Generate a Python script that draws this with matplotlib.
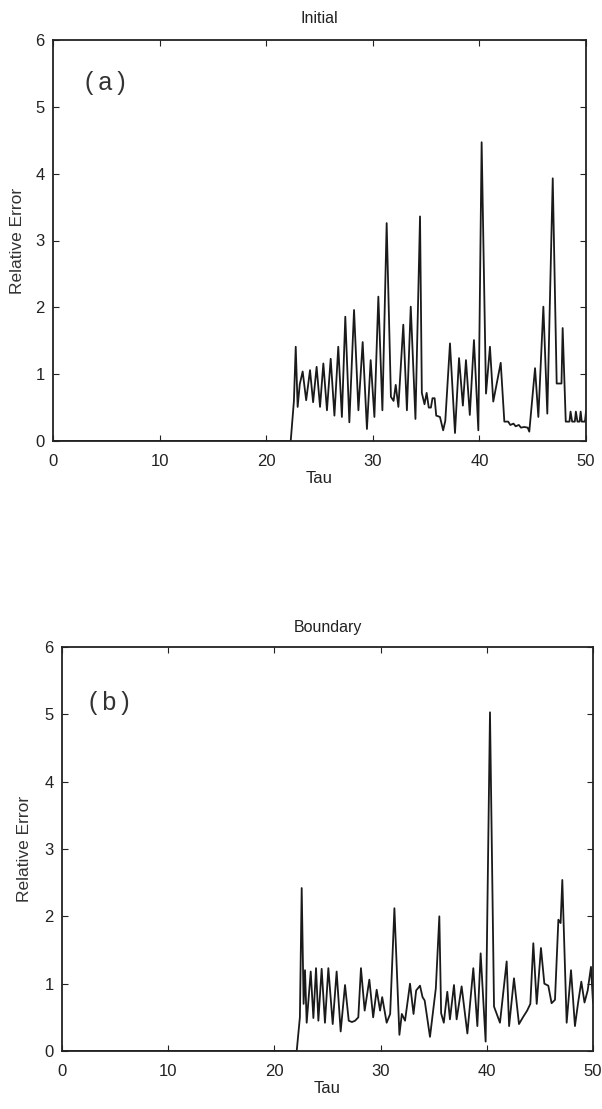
import matplotlib
matplotlib.use("Agg")
import matplotlib.pyplot as plt

plt.rcParams['font.family'] = ['Liberation Sans', 'DejaVu Sans']

# ---- Panel (a): Initial ----
tau_a = [0.0, 22.3, 22.6, 22.77, 22.95, 23.15, 23.42, 23.75, 24.11, 24.4, 24.73,
         25.05, 25.36, 25.7, 26.05, 26.4, 26.76, 27.1, 27.42, 27.8, 28.24,
         28.65, 29.05, 29.45, 29.80, 30.15, 30.52, 30.9, 31.30, 31.7, 31.95,
         32.15, 32.4, 32.86, 33.2, 33.56, 34.0, 34.43, 34.6, 34.85, 35.05,
         35.25, 35.45, 35.6, 35.8, 35.95, 36.3, 36.6, 36.8, 37.24, 37.71,
         38.09, 38.45, 38.74, 39.1, 39.49, 39.9, 40.21, 40.62, 40.99, 41.3,
         42.0, 42.34, 42.7, 42.9, 43.2, 43.4, 43.7, 43.9, 44.2, 44.53,
         44.68, 45.22, 45.53, 46.0, 46.37, 46.88, 47.25, 47.7, 47.81, 48.1,
         48.45, 48.55, 48.7, 48.95, 49.05, 49.2, 49.4, 49.5, 49.6, 49.9, 50.0]
err_a = [0.0, 0.0, 0.6, 1.41, 0.51, 0.85, 1.04, 0.61, 1.06, 0.58, 1.11,
         0.51, 1.16, 0.46, 1.23, 0.38, 1.41, 0.36, 1.86, 0.28, 1.96,
         0.46, 1.48, 0.18, 1.21, 0.36, 2.16, 0.46, 3.26, 0.66, 0.60,
         0.84, 0.51, 1.74, 0.46, 2.01, 0.33, 3.36, 0.72, 0.55, 0.72,
         0.50, 0.50, 0.64, 0.64, 0.38, 0.36, 0.16, 0.30, 1.46, 0.12,
         1.24, 0.53, 1.21, 0.39, 1.51, 0.16, 4.47, 0.71, 1.41, 0.59,
         1.17, 0.29, 0.29, 0.24, 0.26, 0.22, 0.24, 0.20, 0.21, 0.20,
         0.14, 1.09, 0.36, 2.01, 0.41, 3.93, 0.86, 0.86, 1.69, 0.29,
         0.29, 0.44, 0.29, 0.29, 0.44, 0.29, 0.29, 0.44, 0.29, 0.29, 0.44]

# ---- Panel (b): Boundary ----
tau_b = [0.0, 22.1, 22.4, 22.57, 22.75, 22.88, 23.04, 23.42, 23.67, 23.92, 24.14,
         24.45, 24.76, 25.08, 25.49, 25.86, 26.24, 26.65, 27.0, 27.3, 27.6,
         27.9, 28.15, 28.5, 28.94, 29.3, 29.63, 29.95, 30.15, 30.57, 30.9,
         31.3, 31.77, 32.0, 32.3, 32.77, 33.1, 33.35, 33.71, 33.95, 34.15,
         34.65, 35.2, 35.53, 35.7, 35.95, 36.28, 36.53, 36.91, 37.16, 37.63,
         38.17, 38.73, 39.11, 39.42, 39.89, 40.3, 40.68, 41.24, 41.87, 42.1,
         42.56, 43.03, 43.4, 43.8, 44.1, 44.38, 44.7, 45.1, 45.42, 45.79,
         46.1, 46.42, 46.74, 46.95, 47.11, 47.52, 47.93, 48.3, 48.6, 48.9,
         49.2, 49.5, 49.81, 50.0]
err_b = [0.0, 0.0, 0.5, 2.42, 0.70, 1.20, 0.42, 1.18, 0.49, 1.23, 0.45,
         1.22, 0.42, 1.23, 0.40, 1.18, 0.29, 0.98, 0.45, 0.43, 0.45,
         0.50, 1.23, 0.60, 1.06, 0.50, 0.91, 0.60, 0.80, 0.42, 0.55,
         2.12, 0.24, 0.55, 0.45, 1.00, 0.55, 0.90, 0.97, 0.80, 0.75,
         0.21, 0.93, 2.00, 0.56, 0.42, 0.88, 0.47, 0.98, 0.47, 0.96,
         0.26, 1.23, 0.37, 1.45, 0.14, 5.03, 0.66, 0.42, 1.33, 0.37,
         1.08, 0.40, 0.50, 0.60, 0.70, 1.60, 0.70, 1.53, 1.00, 0.97,
         0.71, 0.76, 1.95, 1.90, 2.54, 0.42, 1.20, 0.37, 0.72, 1.03,
         0.72, 0.90, 1.25, 0.72]

x_ticks = [0, 10, 20, 30, 40, 50]
y_ticks = [0, 1, 2, 3, 4, 5, 6]

fig = plt.figure(figsize=(6.02, 11.09), dpi=100)
ax_a = fig.add_axes([53/602, 1 - 441/1109, (586 - 53)/602, (441 - 40)/1109])
ax_b = fig.add_axes([62/602, 1 - 1051/1109, (593 - 62)/602, (1051 - 647)/1109])

line_color = '#1a1a1a'

def style(ax, title, tag, ylab_x, tpad, tag_xy):
    ax.set_xlim(0, 50)
    ax.set_ylim(0, 6)
    ax.set_xticks(x_ticks)
    ax.set_yticks(y_ticks)
    ax.tick_params(direction='in', top=True, right=True, length=4,
                   width=0.8, labelsize=12, colors='#222222')
    ax.tick_params(axis='x', pad=9)
    ax.tick_params(axis='y', pad=6)
    for s in ax.spines.values():
        s.set_linewidth(1.3)
        s.set_color('#222222')
    ax.set_title(title, fontsize=11.5, pad=tpad, color='#222222')
    ax.set_xlabel('Tau', fontsize=12, labelpad=2, color='#222222')
    ax.set_ylabel('Relative Error', fontsize=12.5, color='#333333')
    ax.yaxis.set_label_coords(ylab_x, 0.5)
    ax.text(tag_xy[0], tag_xy[1], tag, fontsize=18, color='#333333',
            ha='center', va='center')

ax_a.plot(tau_a, err_a, color=line_color, linewidth=1.3)
ax_b.plot(tau_b, err_b, color=line_color, linewidth=1.3)

style(ax_a, 'Initial', '(\u2009a\u2009)', -0.053, 12, (4.9, 5.36))
style(ax_b, 'Boundary', '(\u2009b\u2009)', -0.057, 11, (4.5, 5.17))

fig.savefig('out.png', dpi=100, facecolor='white')
